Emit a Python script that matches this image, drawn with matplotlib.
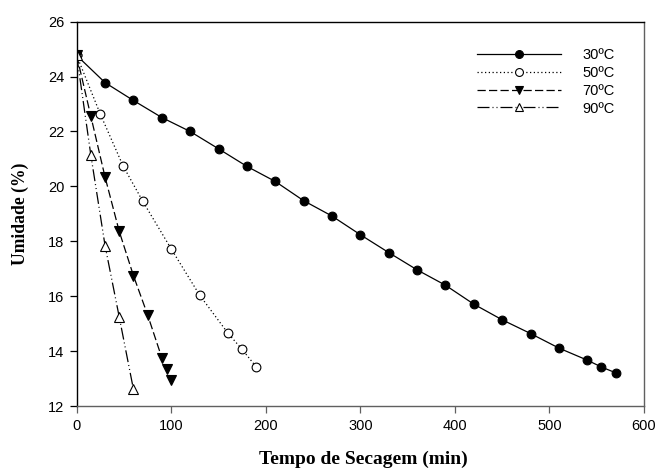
import matplotlib
matplotlib.use("Agg")
import matplotlib.pyplot as plt

# tempo (min) e umidade (%)
t_30 = [0, 30, 60, 90, 120, 150, 180, 210, 240, 270, 300, 330, 360, 390,
        420, 450, 480, 510, 540, 555, 570]
u_30 = [24.77, 23.78, 23.13, 22.51, 22.00, 21.37, 20.73, 20.18, 19.48, 18.92,
        18.24, 17.59, 16.96, 16.40, 15.71, 15.14, 14.64, 14.11, 13.67, 13.42, 13.21]

t_50 = [0, 25, 49, 70, 100, 130, 160, 175, 190]
u_50 = [24.77, 22.63, 20.75, 19.45, 17.72, 16.04, 14.65, 14.06, 13.42]

t_70 = [0, 15, 30, 45, 60, 75, 90, 95, 100]
u_70 = [24.77, 22.55, 20.34, 18.36, 16.75, 15.32, 13.76, 13.33, 12.95]

t_90 = [0, 15, 30, 45, 60]
u_90 = [24.77, 21.13, 17.84, 15.24, 12.61]

labels = ["30ºC", "50ºC", "70ºC", "90ºC"]

sans = ["Liberation Sans", "DejaVu Sans"]
serif = ["Liberation Serif", "DejaVu Serif"]
plt.rcParams["font.family"] = sans

fig = plt.figure(figsize=(6.58, 4.69), dpi=100)
ax = fig.add_axes([76.7 / 658, 1 - 406 / 469, (644 - 76.7) / 658, (406 - 21.7) / 469])

ms = 6.3
ax.plot(t_30, u_30, "-", color="black", lw=0.9, marker="o", ms=ms,
        mfc="black", mec="black", mew=0.8, label=labels[0])
ax.plot(t_50, u_50, linestyle=(0, (1, 2)), color="black", lw=0.9, marker="o", ms=ms,
        mfc="white", mec="black", mew=0.8, label=labels[1])
ax.plot(t_70, u_70, linestyle=(0, (6.6, 2.6)), color="black", lw=0.9, marker="v", ms=ms + 0.5,
        mfc="black", mec="black", mew=0.8, label=labels[2])
ax.plot(t_90, u_90, linestyle=(0, (9.6, 2.4, 0.8, 2.4, 0.8, 2.4)), color="black", lw=0.9,
        marker="^", ms=ms + 0.5, mfc="white", mec="black", mew=0.8, label=labels[3])

ax.set_xlim(0, 600)
ax.set_ylim(12, 26)
ax.set_xticks(range(0, 601, 100))
ax.set_yticks(range(12, 27, 2))

ax.spines["left"].set_color("black")
ax.spines["top"].set_color("black")
ax.spines["right"].set_color("#606060")
ax.spines["bottom"].set_color("#606060")
for s in ax.spines.values():
    s.set_linewidth(1.0)

ax.tick_params(axis="both", direction="out", length=5, width=0.9, labelsize=10.5, pad=4)
ax.tick_params(axis="x", colors="#606060", labelcolor="black")
ax.tick_params(top=False, right=False)

ax.set_xlabel("Tempo de Secagem (min)", family=serif, fontweight="bold", fontsize=14)
ax.set_ylabel("Umidade (%)", family=serif, fontweight="bold", fontsize=12.7)
ax.xaxis.set_label_coords(0.506, -0.14)
ax.xaxis.label.set_va("center")
ax.yaxis.set_label_coords(-0.1, 0.5)
ax.yaxis.label.set_va("center")

ax.legend(loc="upper left", bbox_to_anchor=(0.7056, 0.931), frameon=False,
          fontsize=10.5, handlelength=5.76, handletextpad=1.44, labelspacing=0.26,
          borderpad=0, borderaxespad=0, markerscale=0.9)

fig.savefig("out.png", dpi=100)
